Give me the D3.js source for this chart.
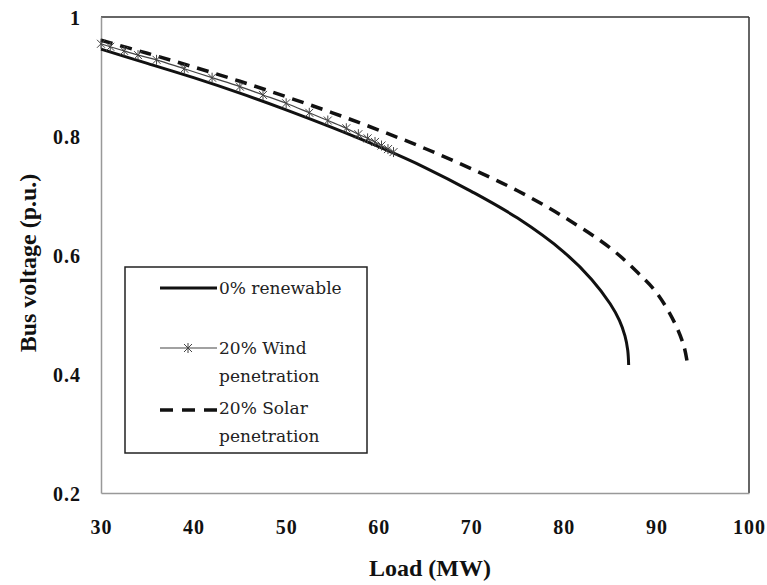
<!DOCTYPE html>
<html>
<head>
<meta charset="utf-8">
<script src="https://cdn.jsdelivr.net/npm/d3@7"></script>
<style>
  html, body { margin: 0; padding: 0; background: #fff; }
  svg { display: block; }
</style>
</head>
<body>
<svg id="chart" width="767" height="585"></svg>
<script>
// ---- data ----
const baseLoad = [30, 35, 40, 45, 50, 55, 60, 65, 70, 75, 80, 83, 85, 86, 86.6, 86.9, 87];
const baseVolt = [0.946, 0.922, 0.898, 0.872, 0.844, 0.814, 0.782, 0.747, 0.707, 0.662, 0.605, 0.559, 0.518, 0.490, 0.464, 0.44, 0.415];

const windLoad = [30, 31, 32.5, 34, 36, 39, 42, 45, 47.5, 50, 52.5, 54.5, 56.5, 57.8, 58.8, 59.6, 60.3, 61, 61.6];
const windVolt = [0.955, 0.950, 0.943, 0.936, 0.928, 0.913, 0.898, 0.883, 0.869, 0.855, 0.839, 0.826, 0.813, 0.803, 0.796, 0.790, 0.784, 0.778, 0.773];

const solarLoad = [30, 35, 40, 45, 50, 55, 60, 65, 70, 75, 80, 85, 88, 90, 92, 93, 93.4];
const solarVolt = [0.961, 0.939, 0.916, 0.892, 0.866, 0.839, 0.810, 0.779, 0.745, 0.708, 0.664, 0.612, 0.570, 0.537, 0.485, 0.445, 0.412];

const xTicks = [30, 40, 50, 60, 70, 80, 90, 100];
const yTicks = [0.2, 0.4, 0.6, 0.8, 1];
const yTickLabels = ["0.2", "0.4", "0.6", "0.8", "1"];

const legendLabels = [["0% renewable"], ["20% Wind", "penetration"], ["20% Solar", "penetration"]];
const xTitle = "Load (MW)";
const yTitle = "Bus voltage (p.u.)";

// ---- layout ----
const svg = d3.select("#chart");
const L = 101, R = 749, T = 17, B = 493;
const x = d3.scaleLinear().domain([30, 100]).range([L, R]);
const y = d3.scaleLinear().domain([0.2, 1]).range([B, T]);

svg.append("rect").attr("width", 767).attr("height", 585).attr("fill", "#fff");

// frame
svg.append("line").attr("x1", L).attr("x2", R).attr("y1", T).attr("y2", T).attr("stroke", "#333").attr("stroke-width", 1.5);
svg.append("line").attr("x1", R).attr("x2", R).attr("y1", T).attr("y2", B).attr("stroke", "#333").attr("stroke-width", 1.5);

// axes (no tick marks)
const xAxis = d3.axisBottom(x).tickValues(xTicks).tickSize(0).tickPadding(27).tickFormat(d3.format("d"));
const yAxis = d3.axisLeft(y).tickValues(yTicks).tickSize(0).tickPadding(20)
  .tickFormat((d, i) => yTickLabels[i]);

const gx = svg.append("g").attr("transform", `translate(0,${B})`).call(xAxis);
const gy = svg.append("g").attr("transform", `translate(${L},0)`).call(yAxis);
[gx, gy].forEach(g => {
  g.select(".domain").attr("stroke", "#999").attr("stroke-width", 1.5);
  g.selectAll("text")
    .attr("font-family", "'Liberation Serif', 'Times New Roman', serif")
    .attr("font-weight", "bold")
    .attr("font-size", 20)
    .attr("letter-spacing", 1)
    .attr("fill", "#111");
});
gy.selectAll("text").attr("dy", "0.35em");

// titles
svg.append("text")
  .attr("x", (L + R) / 2 + 5).attr("y", 576)
  .attr("text-anchor", "middle")
  .attr("font-family", "'Liberation Serif', 'Times New Roman', serif")
  .attr("font-weight", "bold").attr("font-size", 24).attr("fill", "#111")
  .text(xTitle);
svg.append("text")
  .attr("transform", "translate(36,263) rotate(-90)")
  .attr("text-anchor", "middle")
  .attr("font-family", "'Liberation Serif', 'Times New Roman', serif")
  .attr("font-weight", "bold").attr("font-size", 24).attr("fill", "#111")
  .text(yTitle);

// lines
const line = d3.line().x(d => x(d[0])).y(d => y(d[1])).curve(d3.curveCatmullRom.alpha(0.5));
const baseData = d3.zip(baseLoad, baseVolt);
const windData = d3.zip(windLoad, windVolt);
const solarData = d3.zip(solarLoad, solarVolt);

svg.append("path").datum(solarData).attr("d", line)
  .attr("fill", "none").attr("stroke", "#111").attr("stroke-width", 3.5)
  .attr("stroke-dasharray", "12,8");
svg.append("path").datum(baseData).attr("d", line)
  .attr("fill", "none").attr("stroke", "#111").attr("stroke-width", 3);
svg.append("path").datum(windData).attr("d", line)
  .attr("fill", "none").attr("stroke", "#444").attr("stroke-width", 1.2);

const star = "M-4,-4L4,4M-4,4L4,-4M0,-5L0,5";
svg.append("g").selectAll("path").data(windData).join("path")
  .attr("transform", d => `translate(${x(d[0])},${y(d[1])})`)
  .attr("d", star).attr("fill", "none").attr("stroke", "#444").attr("stroke-width", 1);

// legend
const lg = svg.append("g");
lg.append("rect").attr("x", 125).attr("y", 267).attr("width", 242).attr("height", 186)
  .attr("fill", "#fff").attr("stroke", "#222").attr("stroke-width", 1.5);

const sampleY = [288, 348, 410];
const firstBase = [294, 354, 414];
lg.append("line").attr("x1", 160).attr("x2", 217).attr("y1", sampleY[0]).attr("y2", sampleY[0])
  .attr("stroke", "#111").attr("stroke-width", 3);
lg.append("line").attr("x1", 160).attr("x2", 217).attr("y1", sampleY[1]).attr("y2", sampleY[1])
  .attr("stroke", "#444").attr("stroke-width", 1.2);
lg.append("path").attr("transform", `translate(188,${sampleY[1]})`).attr("d", star)
  .attr("fill", "none").attr("stroke", "#444").attr("stroke-width", 1);
lg.append("line").attr("x1", 160).attr("x2", 217).attr("y1", sampleY[2]).attr("y2", sampleY[2])
  .attr("stroke", "#111").attr("stroke-width", 3.5).attr("stroke-dasharray", "13,9");

legendLabels.forEach((lines, i) => {
  const t = lg.append("text")
    .attr("x", 219).attr("y", firstBase[i])
    .attr("font-family", "'DejaVu Serif', serif")
    .attr("font-size", 17).attr("fill", "#222");
  lines.forEach((s, j) => {
    t.append("tspan").attr("x", 219).attr("dy", j === 0 ? 0 : 28).text(s);
  });
});
</script>
</body>
</html>
